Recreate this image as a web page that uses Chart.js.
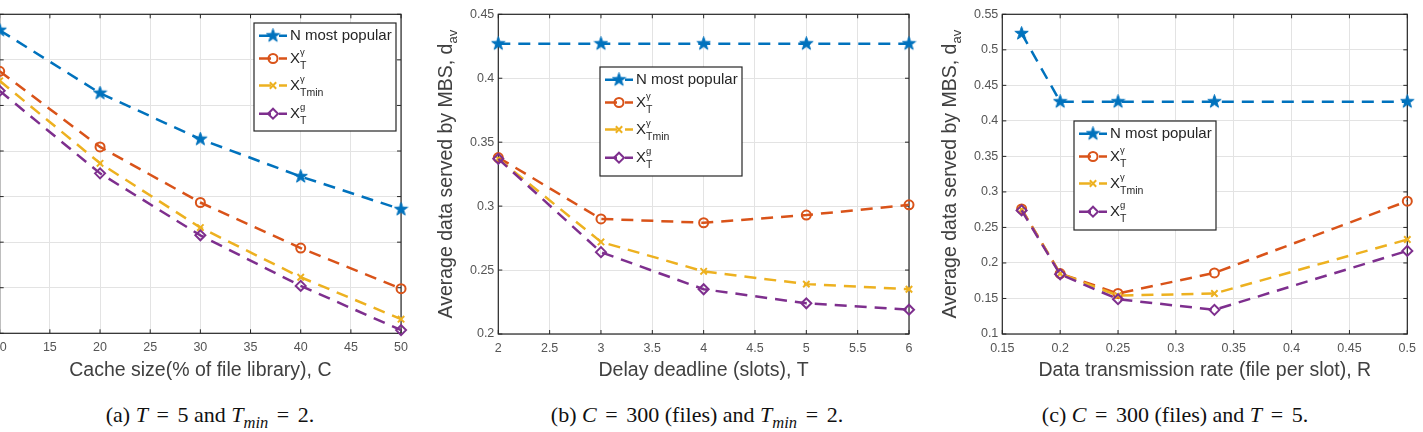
<!DOCTYPE html>
<html>
<head>
<meta charset="utf-8">
<script src="https://cdn.jsdelivr.net/npm/chart.js@4.4.1/dist/chart.umd.min.js"></script>
<style>
  html, body { margin: 0; padding: 0; background: #fff; width: 1423px; height: 432px; overflow: hidden; position: relative; }
  canvas { position: absolute; top: 0; }
  .cap { position: absolute; top: 404px; transform: translateX(-50%); white-space: nowrap;
         font-family: "Liberation Serif", "Times New Roman", serif; font-size: 22px; line-height: 22px; color: #111; }
  .cap sub { font-size: 75%; vertical-align: -0.35em; line-height: 0; }
  .cap .eq { margin: 0 0.14em; }
</style>
</head>
<body>
<canvas id="ca" width="500" height="395" style="left:-85px"></canvas>
<canvas id="cb" width="500" height="395" style="left:420px"></canvas>
<canvas id="cc" width="503" height="395" style="left:920px"></canvas>
<div class="cap" style="left:210px">(a) <i>T</i> <span class="eq">=</span> 5 and <i>T<sub>min</sub></i> <span class="eq">=</span> 2.</div>
<div class="cap" style="left:697px">(b) <i>C</i> <span class="eq">=</span> 300 (files) and <i>T<sub>min</sub></i> <span class="eq">=</span> 2.</div>
<div class="cap" style="left:1175px">(c) <i>C</i> <span class="eq">=</span> 300 (files) and <i>T</i> <span class="eq">=</span> 5.</div>
<script>
// ---------------- DATA ----------------
const seriesNames = ['N most popular', 'X_T^γ', 'X_Tmin^γ', 'X_T^g'];

// (a) cache size
const cacheSize = [10, 20, 30, 40, 50];
const aPopular  = [0.665, 0.527, 0.426, 0.344, 0.272];
const aXT       = [0.575, 0.409, 0.287, 0.187, 0.098];
const aXTmin    = [0.554, 0.373, 0.232, 0.123, 0.031];
const aXTg      = [0.532, 0.351, 0.215, 0.104, 0.007];
const aXTicks   = [10, 15, 20, 25, 30, 35, 40, 45, 50];
const aYTicks   = [0, 0.1, 0.2, 0.3, 0.4, 0.5, 0.6, 0.7];

// (b) delay deadline
const deadline  = [2, 3, 4, 5, 6];
const bPopular  = [0.427, 0.427, 0.427, 0.427, 0.427];
const bXT       = [0.338, 0.290, 0.287, 0.293, 0.301];
const bXTmin    = [0.337, 0.272, 0.249, 0.239, 0.235];
const bXTg      = [0.337, 0.264, 0.235, 0.224, 0.219];
const bXTicks   = [2, 2.5, 3, 3.5, 4, 4.5, 5, 5.5, 6];
const bYTicks   = [0.2, 0.25, 0.3, 0.35, 0.4, 0.45];

// (c) data transmission rate
const rate      = [0.1667, 0.2, 0.25, 0.3333, 0.5];
const cPopular  = [0.523, 0.427, 0.427, 0.427, 0.427];
const cXT       = [0.276, 0.185, 0.157, 0.186, 0.287];
const cXTmin    = [0.275, 0.185, 0.154, 0.157, 0.233];
const cXTg      = [0.274, 0.184, 0.149, 0.134, 0.217];
const cXTicks   = [0.15, 0.2, 0.25, 0.3, 0.35, 0.4, 0.45, 0.5];
const cYTicks   = [0.1, 0.15, 0.2, 0.25, 0.3, 0.35, 0.4, 0.45, 0.5, 0.55];

const xTitles = ['Cache size(% of file library), C', 'Delay deadline (slots), T', 'Data transmission rate (file per slot), R'];
const yTitleMain = 'Average data served by MBS, d';
const yTitleSub = 'av';

// ---------------- STYLE ----------------
const FONT = '"Liberation Sans", Arial, Helvetica, sans-serif';
const COLORS = ['#0072BD', '#D95319', '#EDB120', '#7E2F8E'];
const DASH = [12, 8];

function makeStar(color, size) {
  const c = document.createElement('canvas');
  c.width = size; c.height = size;
  const g = c.getContext('2d');
  const R = size / 2 - 0.5, r = R * 0.4, cx = size / 2, cy = size / 2;
  g.beginPath();
  for (let i = 0; i < 10; i++) {
    const rad = (i % 2 === 0) ? R : r;
    const ang = -Math.PI / 2 + i * Math.PI / 5;
    const px = cx + rad * Math.cos(ang), py = cy + rad * Math.sin(ang);
    if (i === 0) g.moveTo(px, py); else g.lineTo(px, py);
  }
  g.closePath();
  g.fillStyle = color; g.fill();
  g.strokeStyle = color; g.lineWidth = 1; g.stroke();
  return c;
}
const starImg = makeStar(COLORS[0], 15);

const markerStyles = [
  { pointStyle: starImg, pointRadius: 7, bg: COLORS[0] },
  { pointStyle: 'circle', pointRadius: 4.5, bg: 'rgba(0,0,0,0)' },
  { pointStyle: 'crossRot', pointRadius: 4.5, bg: 'rgba(0,0,0,0)' },
  { pointStyle: 'rectRot', pointRadius: 5, bg: 'rgba(0,0,0,0)' }
];

function buildDatasets(xs, ys) {
  return ys.map((vals, i) => ({
    label: seriesNames[i],
    data: xs.map((x, k) => ({ x: x, y: vals[k] })),
    borderColor: COLORS[i],
    backgroundColor: COLORS[i],
    borderWidth: 2.5,
    borderDash: DASH,
    pointStyle: markerStyles[i].pointStyle,
    pointRadius: markerStyles[i].pointRadius,
    pointBorderWidth: 2,
    pointBorderColor: COLORS[i],
    pointBackgroundColor: markerStyles[i].bg,
    tension: 0,
    clip: false,
    order: 3 - i
  }));
}

// frame + inner ticks (MATLAB box)
const framePlugin = {
  id: 'frame',
  beforeDatasetsDraw(chart) {
    const { ctx, chartArea: a, scales } = chart;
    ctx.save();
    ctx.strokeStyle = '#262626';
    ctx.lineWidth = 1.2;
    ctx.strokeRect(a.left, a.top, a.right - a.left, a.bottom - a.top);
    ctx.lineWidth = 1;
    ctx.beginPath();
    const tl = 4;
    scales.x.ticks.forEach(t => {
      const px = scales.x.getPixelForValue(t.value);
      ctx.moveTo(px, a.bottom); ctx.lineTo(px, a.bottom - tl);
      ctx.moveTo(px, a.top); ctx.lineTo(px, a.top + tl);
    });
    scales.y.ticks.forEach(t => {
      const py = scales.y.getPixelForValue(t.value);
      ctx.moveTo(a.left, py); ctx.lineTo(a.left + tl, py);
      ctx.moveTo(a.right, py); ctx.lineTo(a.right - tl, py);
    });
    ctx.stroke();
    ctx.restore();
  }
};

// rotated y title with subscript
const yTitlePlugin = {
  id: 'yTitle',
  afterDraw(chart, args, opts) {
    const { ctx, chartArea: a } = chart;
    const cy = (a.top + a.bottom) / 2;
    ctx.save();
    ctx.translate(opts.x, cy);
    ctx.rotate(-Math.PI / 2);
    ctx.fillStyle = '#404040';
    ctx.textBaseline = 'middle';
    ctx.textAlign = 'left';
    ctx.font = '19.5px ' + FONT;
    const wMain = ctx.measureText(yTitleMain).width;
    ctx.font = '13px ' + FONT;
    const wSub = ctx.measureText(yTitleSub).width;
    const start = -(wMain + wSub) / 2;
    ctx.font = '19.5px ' + FONT;
    ctx.fillText(yTitleMain, start, 0);
    ctx.font = '13px ' + FONT;
    ctx.fillText(yTitleSub, start + wMain, 7);
    ctx.restore();
  }
};

// MATLAB-like legend with sub/superscripts
function parseLabel(s) {
  const m = s.match(/^([^_^]+)(?:_([^_^]+))?(?:\^([^_^]+))?$/);
  if (!m) return { base: s };
  return { base: m[1], sub: m[2], sup: m[3] };
}
const legendPlugin = {
  id: 'matLegend',
  afterDraw(chart, args, opts) {
    const { ctx } = chart;
    const { x, y, w, h, rows } = opts;
    ctx.save();
    ctx.fillStyle = '#fff';
    ctx.fillRect(x, y, w, h);
    ctx.strokeStyle = '#262626';
    ctx.lineWidth = 1.2;
    ctx.strokeRect(x, y, w, h);
    chart.data.datasets.forEach((ds, i) => {
      const cy = y + rows[i];
      ctx.strokeStyle = ds.borderColor;
      ctx.lineWidth = ds.borderWidth;
      ctx.setLineDash(ds.borderDash);
      ctx.beginPath();
      ctx.moveTo(x + 5, cy); ctx.lineTo(x + 33, cy);
      ctx.stroke();
      ctx.setLineDash([]);
      ctx.fillStyle = ds.pointBackgroundColor;
      ctx.strokeStyle = ds.pointBorderColor;
      ctx.lineWidth = ds.pointBorderWidth;
      Chart.helpers.drawPoint(ctx, { pointStyle: ds.pointStyle, radius: ds.pointRadius, borderWidth: ds.pointBorderWidth, rotation: 0 }, x + 19, cy);
      const p = parseLabel(ds.label);
      ctx.fillStyle = '#262626';
      ctx.textBaseline = 'middle';
      ctx.textAlign = 'left';
      ctx.font = '15px ' + FONT;
      const tx = x + 36;
      ctx.fillText(p.base, tx, cy);
      const bw = ctx.measureText(p.base).width;
      if (p.sub) { ctx.font = '10.5px ' + FONT; ctx.fillText(p.sub, tx + bw, cy + 7.5); }
      if (p.sup) { ctx.font = '9.5px ' + FONT; ctx.fillText(p.sup, tx + bw, cy - 6); }
    });
    ctx.restore();
  }
};

function fmt(v) { return String(Number(v.toFixed(3))); }

function makeChart(id, cfg) {
  const canvas = document.getElementById(id);
  const H = canvas.height, W = canvas.width;
  return new Chart(canvas, {
    type: 'line',
    data: { datasets: buildDatasets(cfg.xs, cfg.ys) },
    plugins: [framePlugin, yTitlePlugin, legendPlugin],
    options: {
      responsive: false,
      animation: false,
      devicePixelRatio: 1,
      layout: { padding: { left: 0, right: W - cfg.area.right, top: cfg.area.top, bottom: 0 } },
      plugins: {
        legend: { display: false },
        tooltip: { enabled: false },
        yTitle: { x: cfg.yTitleX },
        matLegend: cfg.legend
      },
      scales: {
        x: {
          type: 'linear',
          min: cfg.xTicks[0], max: cfg.xTicks[cfg.xTicks.length - 1],
          afterBuildTicks: s => { s.ticks = cfg.xTicks.map(v => ({ value: v })); },
          afterFit: s => { s.height = H - cfg.area.bottom; },
          grid: { color: '#e3e3e3', lineWidth: 1, drawTicks: false },
          border: { display: false },
          ticks: { padding: 7, color: '#555', font: { family: FONT, size: 12.5 }, maxRotation: 0, autoSkip: false, callback: v => fmt(v) },
          title: { display: true, text: cfg.xTitle, color: '#404040', font: { family: FONT, size: 19.5 }, padding: { top: 0, bottom: 13 } }
        },
        y: {
          type: 'linear',
          min: cfg.yTicks[0], max: cfg.yTicks[cfg.yTicks.length - 1],
          afterBuildTicks: s => { s.ticks = cfg.yTicks.map(v => ({ value: v })); },
          afterFit: s => { s.width = cfg.area.left; },
          grid: { color: '#e3e3e3', lineWidth: 1, drawTicks: false },
          border: { display: false },
          ticks: { padding: 4, color: '#555', font: { family: FONT, size: 12.5 }, autoSkip: false, callback: v => fmt(v) },
          title: { display: false }
        }
      }
    }
  });
}

const legendRows = [12.7, 35.5, 62.5, 90.7];

makeChart('ca', {
  xs: cacheSize, ys: [aPopular, aXT, aXTmin, aXTg],
  xTicks: aXTicks, yTicks: aYTicks, xTitle: xTitles[0],
  area: { left: 84.7, right: 489.3, top: 14.3, bottom: 333.3 },
  yTitleX: 33,
  legend: { x: 254 + 85, y: 23, w: 142, h: 108, rows: legendRows }
});
makeChart('cb', {
  xs: deadline, ys: [bPopular, bXT, bXTmin, bXTg],
  xTicks: bXTicks, yTicks: bYTicks, xTitle: xTitles[1],
  area: { left: 78.3, right: 489, top: 14.3, bottom: 334 },
  yTitleX: 26.7,
  legend: { x: 600 - 420, y: 67, w: 142, h: 109, rows: legendRows }
});
makeChart('cc', {
  xs: rate, ys: [cPopular, cXT, cXTmin, cXTg],
  xTicks: cXTicks, yTicks: cYTicks, xTitle: xTitles[2],
  area: { left: 82.3, right: 492.7, top: 14.3, bottom: 334 },
  yTitleX: 30.7,
  legend: { x: 1074 - 920, y: 121, w: 142, h: 109, rows: legendRows }
});
</script>
</body>
</html>
